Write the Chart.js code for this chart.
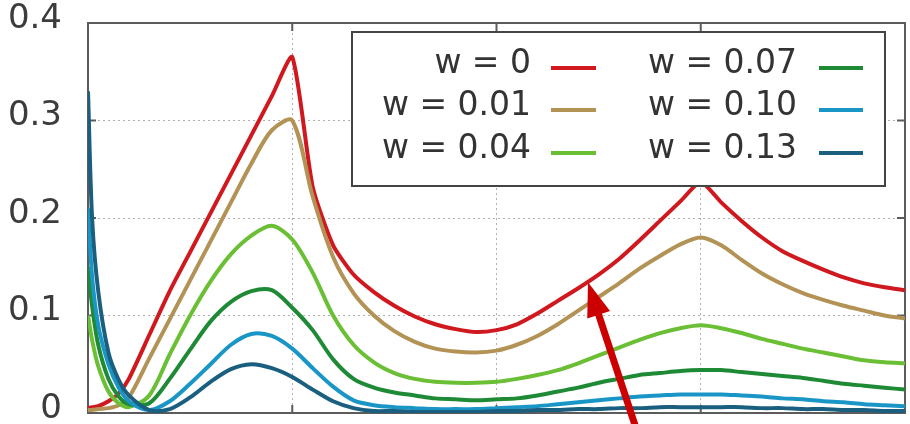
<!DOCTYPE html>
<html>
<head>
<meta charset="utf-8">
<script src="https://cdn.jsdelivr.net/npm/chart.js@4/dist/chart.umd.min.js"></script>
<style>
  html, body { margin: 0; padding: 0; background: #fff; }
  #wrap { width: 910px; height: 424px; }
</style>
</head>
<body>
<div id="wrap"><canvas id="wChart" width="910" height="424"></canvas></div>
<script>
// x positions shared by all curves (finer near the start, where the curves fall fast)
const xs = [0, 0.02, 0.05, 0.1, 0.15, 0.2, 0.3, 0.4, 0.5, 0.6, 0.7, 0.8, 0.9, 1.0,
  1.1, 1.2, 1.3, 1.4, 1.5, 1.6, 1.7, 1.8, 1.9, 2.0,
  2.1, 2.2, 2.3, 2.4, 2.5, 2.6, 2.7, 2.8, 2.9, 3.0,
  3.1, 3.2, 3.3, 3.4, 3.5, 3.6, 3.7, 3.8, 3.9, 4.0];

const labels = ['w = 0', 'w = 0.01', 'w = 0.04', 'w = 0.07', 'w = 0.10', 'w = 0.13'];
const colors = ['#d0181f', '#b39256', '#6abf35', '#1f8a35', '#1996c6', '#1b5f80'];

const w0 = [0.005, 0.006, 0.007, 0.012, 0.02, 0.035,
  0.08, 0.125, 0.165, 0.205, 0.245, 0.285, 0.325, 0.365,
  0.232, 0.172, 0.142, 0.124, 0.11, 0.099, 0.091, 0.086, 0.083, 0.085,
  0.091, 0.102, 0.115, 0.128, 0.142, 0.158, 0.177, 0.197, 0.217, 0.237,
  0.216, 0.197, 0.18, 0.166, 0.156, 0.147, 0.139, 0.133, 0.129, 0.126];
const w001 = [0.003, 0.003, 0.004, 0.005, 0.008, 0.016,
  0.056, 0.096, 0.136, 0.176, 0.216, 0.256, 0.29, 0.3,
  0.222, 0.16, 0.123, 0.1, 0.084, 0.073, 0.066, 0.063, 0.062, 0.064,
  0.07, 0.079, 0.091, 0.105, 0.119, 0.133, 0.148, 0.161, 0.173, 0.18,
  0.172, 0.157, 0.143, 0.132, 0.123, 0.116, 0.11, 0.105, 0.1, 0.097];
const w004 = [0.1, 0.075, 0.048, 0.022, 0.01, 0.006,
  0.018, 0.06, 0.1, 0.135, 0.163, 0.182, 0.192, 0.178,
  0.144, 0.1, 0.07, 0.052, 0.041, 0.035, 0.032, 0.031, 0.031, 0.032,
  0.035, 0.039, 0.044, 0.051, 0.059, 0.067, 0.075, 0.082, 0.087, 0.09,
  0.087, 0.082, 0.076, 0.071, 0.066, 0.062, 0.058, 0.054, 0.052, 0.051];
const w007 = [0.15, 0.11, 0.07, 0.035, 0.017, 0.009,
  0.01, 0.035, 0.065, 0.094, 0.114, 0.125, 0.126, 0.108,
  0.085, 0.055, 0.035, 0.026, 0.021, 0.018, 0.015, 0.014, 0.013, 0.014,
  0.015, 0.018, 0.022, 0.026, 0.031, 0.035, 0.039, 0.041, 0.043, 0.044,
  0.044, 0.042, 0.04, 0.038, 0.036, 0.033, 0.03, 0.028, 0.026, 0.024];
const w010 = [0.21, 0.14, 0.09, 0.05, 0.026, 0.012,
  0.003, 0.012, 0.03, 0.05, 0.07, 0.081, 0.079, 0.066,
  0.046, 0.027, 0.013, 0.008, 0.006, 0.005, 0.004, 0.004, 0.004, 0.005,
  0.006, 0.007, 0.009, 0.011, 0.013, 0.015, 0.017, 0.018, 0.019, 0.019,
  0.019, 0.018, 0.017, 0.015, 0.014, 0.012, 0.011, 0.009, 0.008, 0.007];
const w013 = [0.33, 0.2, 0.125, 0.062, 0.034, 0.018,
  0.003, 0.004, 0.016, 0.032, 0.045, 0.05, 0.046, 0.037,
  0.024, 0.012, 0.005, 0.002, 0.002, 0.001, 0.001, 0.001, 0.001, 0.002,
  0.002, 0.003, 0.003, 0.004, 0.004, 0.005, 0.005, 0.006, 0.006, 0.006,
  0.006, 0.006, 0.005, 0.005, 0.004, 0.004, 0.003, 0.003, 0.002, 0.002];

const series = [w0, w001, w004, w007, w010, w013];
// red keeps sharper corners at its peaks
const tensions = [0.2, 0.3, 0.3, 0.3, 0.3, 0.3];

// arrow annotation, in data units: tip then tail
const arrowTip = [2.448, 0.134];
const arrowTail = [2.69, -0.02];

const FONT = "'DejaVu Sans', sans-serif";

// gnuplot style box round the plot with inward ticks
const framePlugin = {
  id: 'frame',
  beforeDatasetsDraw(chart) {
    const {ctx, chartArea: a, scales} = chart;
    ctx.save();
    ctx.strokeStyle = '#5c5c5c';
    ctx.lineWidth = 2;
    ctx.strokeRect(a.left, a.top, a.right - a.left, a.bottom - a.top);
    ctx.beginPath();
    scales.x.ticks.forEach(t => {
      const px = scales.x.getPixelForValue(t.value);
      ctx.moveTo(px, a.bottom); ctx.lineTo(px, a.bottom - 8);
      ctx.moveTo(px, a.top); ctx.lineTo(px, a.top + 8);
    });
    scales.y.ticks.forEach(t => {
      const py = scales.y.getPixelForValue(t.value);
      ctx.moveTo(a.left, py); ctx.lineTo(a.left + 8, py);
      ctx.moveTo(a.right, py); ctx.lineTo(a.right - 8, py);
    });
    ctx.stroke();
    ctx.restore();
  }
};

// legend in two columns, text right aligned before the sample line
const legendBox = {
  id: 'legendBox',
  afterDatasetsDraw(chart) {
    const ctx = chart.ctx;
    const sets = chart.data.datasets;
    ctx.save();
    ctx.fillStyle = '#fff';
    ctx.fillRect(352, 32, 533, 154);
    ctx.strokeStyle = '#444';
    ctx.lineWidth = 2;
    ctx.strokeRect(352, 32, 533, 154);
    ctx.font = '33px ' + FONT;
    ctx.textAlign = 'right';
    ctx.textBaseline = 'middle';
    const rows = [64, 106, 149];
    const cols = [{text: 531, x0: 551, x1: 596}, {text: 797, x0: 819, x1: 863}];
    sets.forEach((ds, i) => {
      const c = cols[Math.floor(i / 3)];
      const y = rows[i % 3];
      ctx.fillStyle = '#333';
      ctx.fillText(ds.label, c.text, y);
      ctx.strokeStyle = ds.borderColor;
      ctx.lineWidth = 4;
      ctx.beginPath();
      ctx.moveTo(c.x0, y + 4);
      ctx.lineTo(c.x1, y + 4);
      ctx.stroke();
    });
    ctx.restore();
  }
};

const arrowPlugin = {
  id: 'arrow',
  afterDraw(chart) {
    const {ctx, scales: {x, y}} = chart;
    const tx = x.getPixelForValue(arrowTip[0]), ty = y.getPixelForValue(arrowTip[1]);
    const sx = x.getPixelForValue(arrowTail[0]), sy = y.getPixelForValue(arrowTail[1]);
    const len = Math.hypot(tx - sx, ty - sy);
    const ux = (tx - sx) / len, uy = (ty - sy) / len;
    const headLen = 34, headW = 12;
    const bx = tx - ux * headLen, by = ty - uy * headLen;
    ctx.save();
    ctx.strokeStyle = '#cc0000';
    ctx.fillStyle = '#cc0000';
    ctx.lineWidth = 7;
    ctx.beginPath();
    ctx.moveTo(sx, sy);
    ctx.lineTo(bx + ux * 4, by + uy * 4);
    ctx.stroke();
    ctx.beginPath();
    ctx.moveTo(tx, ty);
    ctx.lineTo(bx - uy * headW, by + ux * headW);
    ctx.lineTo(bx + uy * headW, by - ux * headW);
    ctx.closePath();
    ctx.fill();
    ctx.restore();
  }
};

const ctx = document.getElementById('wChart').getContext('2d');

new Chart(ctx, {
  type: 'line',
  data: {
    datasets: series.map((vals, i) => ({
      label: labels[i],
      data: vals.map((v, j) => ({x: xs[j], y: v})),
      borderColor: colors[i],
      borderWidth: 4,
      pointRadius: 0,
      fill: false,
      tension: tensions[i],
      order: series.length - i
    }))
  },
  options: {
    responsive: false,
    animation: false,
    devicePixelRatio: 1,
    layout: { padding: { top: 23, right: 5, left: 0, bottom: 0 } },
    scales: {
      x: {
        type: 'linear',
        min: 0,
        max: 4,
        ticks: { display: false, stepSize: 1 },
        grid: { color: '#b0b0b0', lineWidth: 1, drawTicks: false },
        border: { display: false, dash: [2, 3] },
        afterFit(scale) {
          scale.height = 11;
          scale.paddingLeft = 0; scale.paddingRight = 0;
          scale.paddingTop = 0; scale.paddingBottom = 0;
        }
      },
      y: {
        min: 0,
        max: 0.4,
        ticks: {
          stepSize: 0.1,
          padding: 26,
          labelOffset: -4,
          color: '#3c3c3c',
          font: { family: FONT, size: 34 }
        },
        grid: { color: '#b0b0b0', lineWidth: 1, drawTicks: false },
        border: { display: false, dash: [2, 3] },
        afterFit(scale) {
          scale.width = 88;
          scale.paddingLeft = 0; scale.paddingRight = 0;
          scale.paddingTop = 0; scale.paddingBottom = 0;
        }
      }
    },
    plugins: {
      legend: { display: false },
      tooltip: { enabled: false }
    }
  },
  plugins: [framePlugin, legendBox, arrowPlugin]
});
</script>
</body>
</html>
